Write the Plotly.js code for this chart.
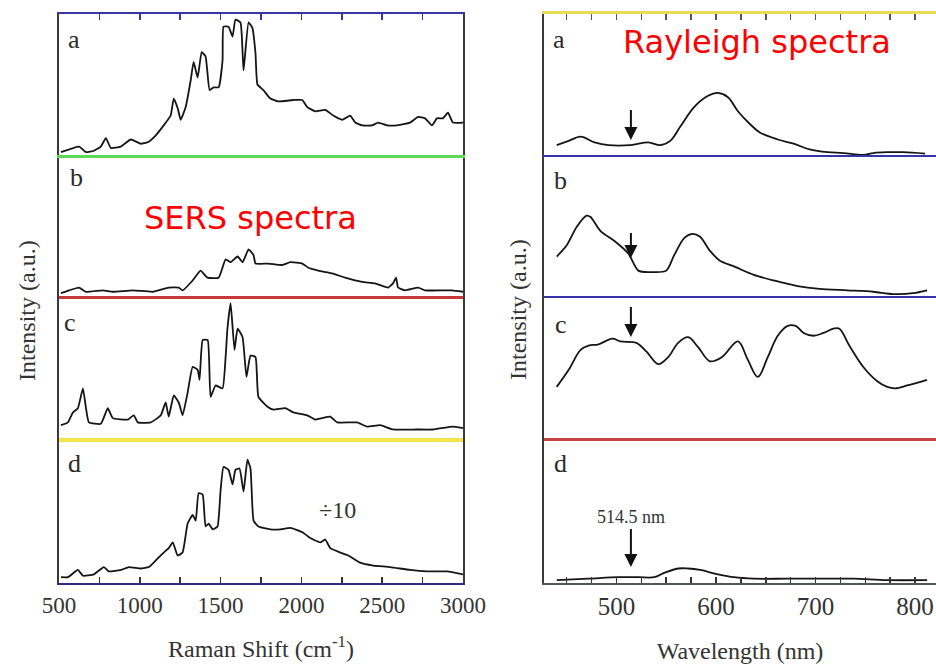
<!DOCTYPE html>
<html>
<head>
<meta charset="utf-8">
<script src="https://cdn.plot.ly/plotly-3.0.1.min.js"></script>
<style>html,body{margin:0;padding:0;background:#fff;}#chart{width:936px;height:664px;}</style>
</head>
<body>
<div id="chart"></div>
<script>
// ---------- DATA ----------
const panelLabels = ['a', 'b', 'c', 'd'];
// tick positions and labels (unlabelled positions are the small intermediate ticks)
const sersTickVals = [500, 750, 1000, 1250, 1500, 1750, 2000, 2250, 2500, 2750, 3000];
const sersTickText = ['500', '', '1000', '', '1500', '', '2000', '', '2500', '', '3000'];
const rayTickVals = [450, 475, 500, 525, 550, 575, 600, 625, 650, 675, 700, 725, 750, 775, 800];
const rayTickText = ['', '', '500', '', '', '', '600', '', '', '', '700', '', '', '', '800'];

// SERS spectra (Raman shift in cm^-1, intensity a.u.)
const sersX_a = [512,625,667,716,759,790,821,883,944,1006,1049,1099,1148,1191,1210,1235,1253,1284,1315,1333,1358,1383,1407,1432,1457,1488,1512,1518,1549,1574,1592,1623,1642,1673,1697,1716,1728,1765,1808,1857,1950,2005,2036,2086,2147,2197,2252,2302,2333,2376,2438,2475,2530,2592,2672,2722,2765,2808,2839,2876,2907,2938,3000];
const sersY_a = [2,6,2,3,6,12,5,6,11,8,9,14,21,28,40,33,25,34,53,66,55,73,70,46,48,48,67,91,91,84,96,94,60,94,90,72,50,46,40,38,39,39,34,31,32,28,25,28,23,21,21,23,21,21,23,27,26,21,26,26,30,23,23];

const sersX_b = [512,562,623,667,772,833,957,1080,1179,1241,1265,1327,1376,1419,1488,1531,1562,1605,1636,1673,1704,1716,1796,1882,1932,2006,2043,2105,2191,2271,2376,2456,2536,2567,2586,2598,2641,2722,2765,2932,3000];
const sersY_b = [2,4,6,3,4,3,4,3,6,6,4,11,18,13,13,26,24,28,24,33,29,23,23,22,24,23,20,18,16,13,10,9,6,9,13,6,4,6,4,4,3];

const sersX_c = [512,555,586,617,648,667,685,759,802,833,926,963,988,1068,1130,1160,1179,1210,1241,1265,1296,1327,1358,1370,1389,1420,1438,1469,1512,1531,1543,1562,1586,1605,1636,1660,1685,1716,1734,1790,1827,1901,1950,2036,2086,2178,2222,2345,2407,2487,2567,2715,2814,2932,3000];
const sersY_c = [9,11,18,21,35,21,11,10,21,14,13,16,11,11,16,25,15,30,25,16,32,50,48,41,69,69,29,37,35,57,78,95,62,77,71,43,58,57,29,22,20,21,18,16,13,15,11,11,8,9,6,6,6,8,7];

const sersX_d = [512,555,617,648,716,778,809,883,932,1006,1056,1111,1148,1179,1204,1234,1265,1296,1327,1346,1364,1389,1407,1426,1451,1481,1500,1518,1549,1574,1592,1617,1642,1666,1685,1704,1734,1808,1870,1932,2006,2055,2117,2147,2179,2240,2290,2364,2444,2549,2672,2777,2901,3000];
const sersY_d = [4,4,9,5,6,11,8,9,11,10,11,17,21,24,28,19,21,41,47,43,62,61,39,41,37,39,64,80,78,68,78,79,63,85,79,43,39,37,37,38,35,31,28,30,24,21,19,14,12,11,9,8,8,6];

// Rayleigh spectra (wavelength in nm, intensity a.u.)
const rayX_a = [440,452,464,478,492,514,532,544,554,564,578,592,602,612,622,634,644,662,678,694,712,728,748,758,772,788,810];
const rayY_a = [7,10,13,9,7,7,9,7,10,20,34,42,44,41,31,22,16,11,8,4,2,1.4,0,1.4,2,2,1];

const rayX_b = [440,450,460,470,474,484,498,512,522,536,550,558,568,576,584,594,604,618,638,658,682,704,732,758,778,798,812];
const rayY_b = [28,36,49,57,56,46,39,30,18,17,18,29,41,44,42,32,25,21,15,11,7,5,4,3,1.4,2,4];

const rayX_c = [440,452,464,472,482,496,504,520,530,542,552,562,572,582,594,606,622,632,642,652,662,672,680,688,698,708,718,724,734,748,762,772,780,792,812];
const rayY_c = [36,48,62,65,66,70,68,67,61,52,57,67,71,64,54,57,68,55,43,57,72,79,79,74,72,74,77,77,65,50,40,36,35,37,41];

const rayX_d = [440,472,502,522,538,548,562,572,584,602,618,638,672,704,738,772,812];
const rayY_d = [2,3,4,4,4,7,10,10,9,6,4,3,3,3,3,2,2];

const laserLine = 514.5; // nm, excitation wavelength marked by arrows

// ---------- LAYOUT HELPERS ----------
const W = 936, H = 664;
const fx = p => p / W;
const fy = p => 1 - p / H;
const serif = 'Liberation Serif, Times New Roman, serif';

const leftDom = [fx(59), fx(463)];
const rightDom = [fx(544), 1];
const rowsPx = [[14, 155], [155, 296], [296, 438], [438, 583]];
const yDom = rowsPx.map(r => [fy(r[1]), fy(r[0])]);
const sersRange = [500, 3000];
const rayRange = [427.2, 821];

function tr(x, y, xa, ya, smooth) {
  return {x: x, y: y, xaxis: xa, yaxis: ya, type: 'scatter', mode: 'lines',
          line: {color: '#151515', width: 1.8, shape: 'spline', smoothing: smooth}, hoverinfo: 'skip'};
}
// empty trace that only registers a separator axis on a panel (draws no mark)
function holder(xa, ya) {
  return {x: [], y: [], xaxis: xa, yaxis: ya, type: 'scatter', mode: 'lines', hoverinfo: 'skip'};
}

const data = [
  tr(sersX_a, sersY_a, 'x2', 'y', 0.4),
  tr(sersX_b, sersY_b, 'x', 'y2', 0.4),
  tr(sersX_c, sersY_c, 'x', 'y3', 0.4),
  tr(sersX_d, sersY_d, 'x', 'y4', 0.4),
  tr(rayX_a, rayY_a, 'x4', 'y5', 1.0),
  tr(rayX_b, rayY_b, 'x3', 'y6', 0.8),
  tr(rayX_c, rayY_c, 'x3', 'y7', 1.0),
  tr(rayX_d, rayY_d, 'x3', 'y8', 1.0),
  holder('x5', 'y'), holder('x6', 'y2'), holder('x7', 'y3'),
  holder('x8', 'y5'), holder('x9', 'y6'), holder('x10', 'y7')
];

function yAx(i, anchor, mirror) {
  return {domain: yDom[i], range: [0, 100], anchor: anchor, showticklabels: false,
          showgrid: false, zeroline: false, showline: true, linecolor: '#3a3a3a', linewidth: 2, mirror: mirror};
}
function sepAx(base, range, anchor, color, width) {
  return {overlaying: base, range: range, anchor: anchor, side: 'bottom', showticklabels: false,
          showgrid: false, zeroline: false, showline: true, linecolor: color, linewidth: width};
}

const layout = {
  width: W, height: H,
  margin: {l: 0, r: 0, t: 0, b: 0, autoexpand: false},
  paper_bgcolor: '#ffffff', plot_bgcolor: 'rgba(0,0,0,0)',
  showlegend: false,
  font: {family: serif, color: '#333'},
  xaxis: {
    domain: leftDom, range: sersRange, anchor: 'y4',
    showgrid: false, zeroline: false, showline: true, linecolor: '#2d2d86', linewidth: 2,
    ticks: 'inside', ticklen: 6, tickwidth: 1.5, tickcolor: '#333',
    tickmode: 'array', tickvals: sersTickVals, ticktext: sersTickText,
    tickfont: {family: serif, size: 23, color: '#333'},
    title: {text: 'Raman Shift (cm<sup>-1</sup>)', font: {family: serif, size: 24, color: '#333'}, standoff: 24}
  },
  xaxis2: {
    domain: leftDom, range: sersRange, anchor: 'y', side: 'top',
    showgrid: false, zeroline: false, showline: true, linecolor: '#3636a8', linewidth: 2,
    ticks: 'inside', ticklen: 6, tickwidth: 1.5, tickcolor: '#3636a8',
    tickmode: 'array', tickvals: sersTickVals, showticklabels: false
  },
  xaxis3: {
    domain: rightDom, range: rayRange, anchor: 'y8',
    showgrid: false, zeroline: false, showline: true, linecolor: '#4b5a55', linewidth: 2,
    ticks: 'inside', ticklen: 6, tickwidth: 1.5, tickcolor: '#333',
    tickmode: 'array', tickvals: rayTickVals, ticktext: rayTickText,
    tickfont: {family: serif, size: 25, color: '#333'},
    title: {text: 'Wavelength (nm)', font: {family: serif, size: 24, color: '#333'}, standoff: 26}
  },
  xaxis4: {
    domain: rightDom, range: rayRange, anchor: 'y5', side: 'top',
    showgrid: false, zeroline: false, showline: true, linecolor: '#e9dd55', linewidth: 3,
    ticks: 'inside', ticklen: 6, tickwidth: 1.5, tickcolor: '#555',
    tickmode: 'array', tickvals: rayTickVals, showticklabels: false
  },
  xaxis5: sepAx('x2', sersRange, 'y', '#5fd85a', 3),
  xaxis6: sepAx('x', sersRange, 'y2', '#c83a3a', 2.5),
  xaxis7: sepAx('x', sersRange, 'y3', '#f0e448', 4),
  xaxis8: sepAx('x4', rayRange, 'y5', '#3535a8', 2),
  xaxis9: sepAx('x3', rayRange, 'y6', '#3535a8', 2),
  xaxis10: sepAx('x3', rayRange, 'y7', '#c94545', 2.5),
  yaxis: yAx(0, 'x2', true),
  yaxis2: yAx(1, 'x', true),
  yaxis3: yAx(2, 'x', true),
  yaxis4: yAx(3, 'x', true),
  yaxis5: yAx(0, 'x4', false),
  yaxis6: yAx(1, 'x3', false),
  yaxis7: yAx(2, 'x3', false),
  yaxis8: yAx(3, 'x3', false),
  annotations: []
};

function txt(text, x, y, size, opts) {
  layout.annotations.push(Object.assign({text: text, xref: 'paper', yref: 'paper', x: fx(x), y: fy(y),
    xanchor: 'center', yanchor: 'middle', showarrow: false,
    font: {family: serif, size: size, color: '#333'}}, opts || {}));
}

// panel letters
const leftLabelPos = [[74, 40], [76, 177], [70, 322], [74, 463]];
const rightLabelPos = [[559, 40], [560, 180], [561, 324], [560, 463]];
panelLabels.forEach((l, i) => {
  txt(l, leftLabelPos[i][0], leftLabelPos[i][1], 26, {font: {family: serif, size: 26, color: '#2a2a2a'}});
  txt(l, rightLabelPos[i][0], rightLabelPos[i][1], 26, {font: {family: serif, size: 26, color: '#2a2a2a'}});
});

// headings
txt('SERS spectra', 250, 218, 32, {font: {family: 'DejaVu Sans, Verdana, sans-serif', size: 32, color: '#ff0000'}});
txt('Rayleigh spectra', 757, 42, 32, {font: {family: 'DejaVu Sans, Verdana, sans-serif', size: 32, color: '#ff0000'}});

// y titles
txt('Intensity (a.u.)', 27, 311, 24, {textangle: -90});
txt('Intensity (a.u.)', 518, 310, 24, {textangle: -90});

// ÷10 scale note
txt('÷10', 337, 510, 24);

// arrows at the excitation wavelength; the panel-d arrow carries the "514.5 nm" label
const arrowTips = [[140, 30, ''], [258, 25, ''], [337, 30, ''], [567, 38, '514.5 nm']];
arrowTips.forEach(a => {
  layout.annotations.push({x: laserLine, xref: 'x3', y: fy(a[0]), yref: 'paper', text: a[2], showarrow: true,
    ax: 0, ay: -a[1], arrowhead: 2, arrowsize: 1.3, arrowwidth: 2, arrowcolor: '#111',
    standoff: 0, yanchor: 'bottom',
    font: {family: serif, size: 18, color: '#333'}});
});

Plotly.newPlot('chart', data, layout, {staticPlot: true, displayModeBar: false});
</script>
</body>
</html>
